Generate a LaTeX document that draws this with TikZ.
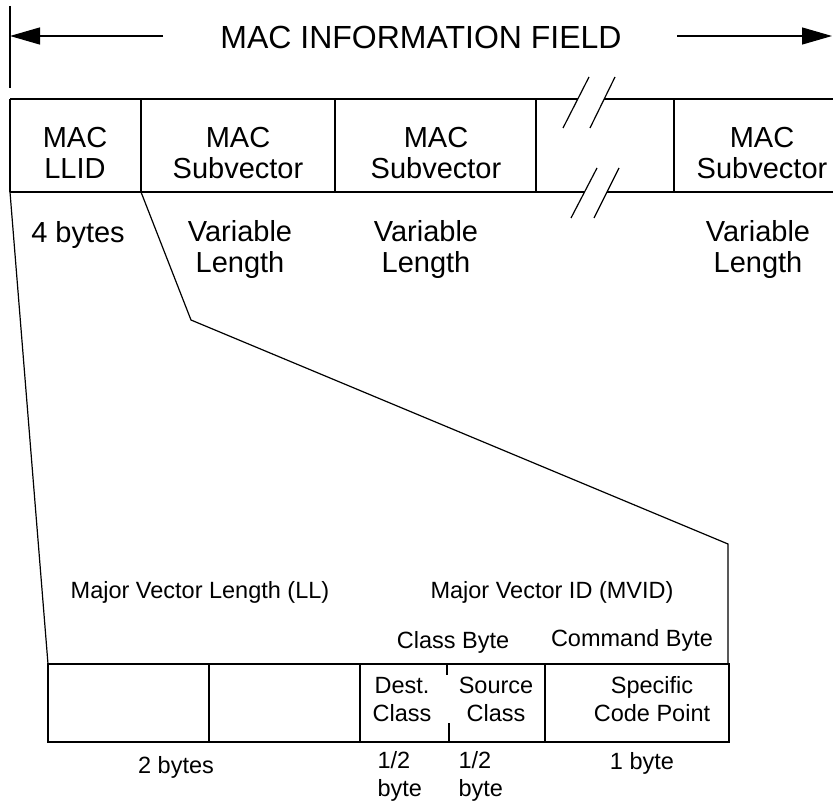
\documentclass[tikz,border=0pt]{standalone}
\usepackage{fontspec}
\setmainfont{Liberation Sans}
\usetikzlibrary{arrows.meta}
\tikzset{
  field/.style={font=\fontsize{29bp}{31bp}\selectfont,align=center,inner sep=0pt,anchor=base},
  subfield/.style={font=\fontsize{23.5bp}{27.5bp}\selectfont,align=center,inner sep=0pt,anchor=base},
  bigarrow/.style={-{Triangle[length=30bp,width=17bp]}},
  gapfill/.style={fill=white,draw=none},
}
\begin{document}
\begin{tikzpicture}[x=1bp,y=-1bp,line width=1.2bp]
  \useasboundingbox (0,0) rectangle (833,804);
  % header with arrows
  \draw (10,6) -- (10,88);
  \node[font=\fontsize{32bp}{34bp}\selectfont,inner sep=0pt,anchor=base] (title) at (421,49) {MAC INFORMATION FIELD};
  \coordinate (arrL) at (10,36);
  \coordinate (arrR) at (832,36);
  \draw[bigarrow] (163,36) -- (arrL);
  \draw[bigarrow] (677,36) -- (arrR);
  % upper frame
  \draw (10,99) -- (833,99);
  \draw (10,192) -- (833,192);
  \foreach \x in {10,141,335,536,674}{
    \draw (\x,99) -- (\x,192);
  }
  % break marks
  \fill[gapfill] (563,128) -- (589,77) -- (615,77) -- (590,128) -- cycle;
  \fill[gapfill] (571,218) -- (597,168) -- (619,168) -- (594,218) -- cycle;
  \draw (563,128) -- (589,77);
  \draw (590,128) -- (615,77);
  \draw (571,218) -- (597,168);
  \draw (594,218) -- (619,168);
  % upper labels (base = last line)
  \node[field] (llid) at (75,178) {MAC\\LLID};
  \node[field] (subA) at (238,178) {MAC\\Subvector};
  \node[field] (subB) at (436,178) {MAC\\Subvector};
  \node[field] (subN) at (762,178) {MAC\\Subvector};
  \node[field] (llidlen) at (78,242) {4 bytes};
  \node[field] (subAlen) at (240,272) {Variable\\Length};
  \node[field] (subBlen) at (426,272) {Variable\\Length};
  \node[field] (subNlen) at (758,272) {Variable\\Length};
  % expansion of the first subvector
  \coordinate (llidSW) at (10,192);
  \coordinate (subSW) at (141,192);
  \coordinate (bend) at (191,320);
  \coordinate (corner) at (728,544);
  \coordinate (lowNW) at (48,664);
  \coordinate (lowNE) at (729,664);
  \draw (llidSW) -- (lowNW);
  \draw (subSW) -- (bend) -- (corner) -- (corner |- lowNE);
  % lower frame
  \draw (lowNW) rectangle (729,742);
  \foreach \x in {209,360,545}{
    \draw (\x,664) -- (\x,742);
  }
  \draw (447,664) -- (447,675);
  \draw (449,723) -- (449,742);
  % lower labels
  \node[subfield] (ll) at (200,598) {Major Vector Length (LL)};
  \node[subfield] (mvid) at (552,598) {Major Vector ID (MVID)};
  \node[subfield] (clsbyte) at (453,648) {Class Byte};
  \node[subfield] (cmdbyte) at (632,646) {Command Byte};
  \node[subfield] (dest) at (402,721) {Dest.\\Class};
  \node[subfield] (src) at (496,721) {Source\\Class};
  \node[subfield] (scp) at (652,721) {Specific\\Code Point};
  \node[subfield] (lllen) at (176,773) {2 bytes};
  \node[subfield,align=left,anchor=base west] (destlen) at (377,796) {1/2\\byte};
  \node[subfield,align=left,anchor=base west] (srclen) at (458,796) {1/2\\byte};
  \node[subfield] (cmdlen) at (642,769) {1 byte};
\end{tikzpicture}
\end{document}
